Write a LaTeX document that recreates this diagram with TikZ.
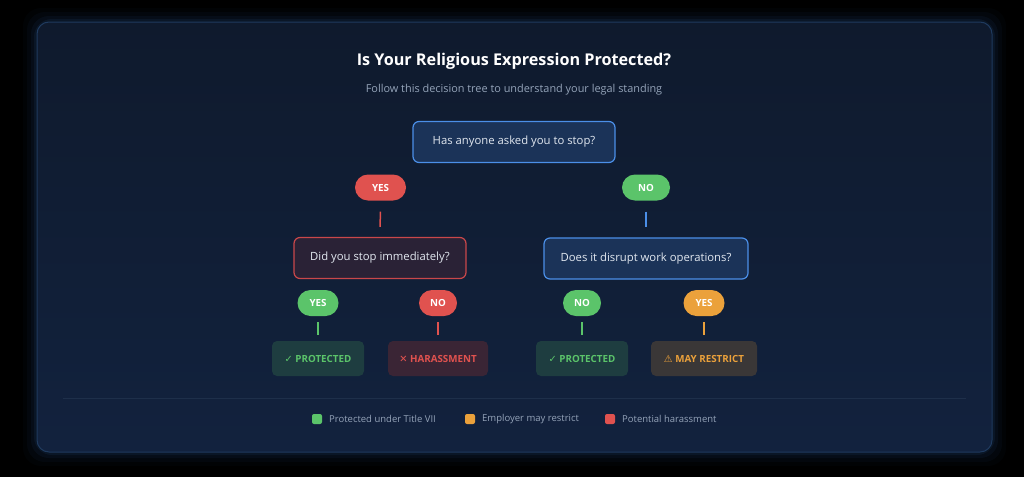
\documentclass[tikz,border=0pt]{standalone}
\usepackage{fontspec}
\setmainfont{Open Sans}
\newfontfamily\symfont{DejaVu Sans}
\usetikzlibrary{calc}
\definecolor{cardtop}{HTML}{0F1A2D}
\definecolor{cardbot}{HTML}{12223E}
\definecolor{cardborder}{HTML}{1F3A5E}
\definecolor{rootfill}{HTML}{1B3358}
\definecolor{bluebd}{HTML}{4B8FE8}
\definecolor{redc}{HTML}{E0524F}
\definecolor{greenc}{HTML}{5BC46A}
\definecolor{orangec}{HTML}{EBA13B}
\definecolor{redfill}{HTML}{2A2236}
\definecolor{redbd}{HTML}{C9474A}
\definecolor{protfill}{HTML}{1E3D40}
\definecolor{harfill}{HTML}{3A2535}
\definecolor{mayfill}{HTML}{3A3737}
\definecolor{subgray}{HTML}{94A3B8}
\definecolor{qtext}{HTML}{E2E8F0}
\definecolor{sepc}{HTML}{1E2F4A}
\tikzset{
  question/.style={draw, line width=1.2pt, rounded corners=6pt, minimum height=41pt, text=qtext, font=\fontsize{11.3}{13}\selectfont},
  pill/.style={rounded corners=13pt, minimum height=26pt, text=white, font=\bfseries\fontsize{9.8}{11}\selectfont, inner sep=0pt},
  result/.style={rounded corners=5pt, minimum height=35pt, inner sep=0pt, font=\bfseries\fontsize{9.8}{11}\selectfont},
  conn/.style={line width=1.5pt},
  legsq/.style={rounded corners=2pt, minimum width=10pt, minimum height=10pt, inner sep=0pt},
  legtx/.style={anchor=west, text=subgray, font=\fontsize{9.5}{11}\selectfont, inner sep=0pt}
}
\begin{document}
\begin{tikzpicture}[x=1pt,y=-1pt]
\fill[black] (0,0) rectangle (1024,477);
\useasboundingbox (0,0) rectangle (1024,477);
% glow
\foreach \g/\o in {14/0.025,10/0.035,6/0.05,3/0.07}{
  \fill[bluebd, opacity=\o, rounded corners=18pt] (37-\g,22-\g) rectangle (992+\g,452+\g);
}
\node[draw=cardborder, line width=1pt, rounded corners=12pt, top color=cardtop, bottom color=cardbot, minimum width=955pt, minimum height=430pt, inner sep=0pt] (card) at (514.5,237) {};
% title
\node[text=white, font=\bfseries\fontsize{16.2}{19}\selectfont] (title) at (514,61) {Is Your Religious Expression Protected?};
\node[text=subgray, font=\fontsize{10.9}{13}\selectfont] (sub) at (514,90) {Follow this decision tree to understand your legal standing};
% root
\node[question, draw=bluebd, fill=rootfill, minimum width=202pt] (root) at (514,142) {Has anyone asked you to stop?};
% first level pills
\node[pill, fill=redc, minimum width=51pt] (yes1) at (380.5,187.5) {YES};
\node[pill, fill=greenc, minimum width=48pt] (no1) at (646,187.5) {NO};
% second level questions
\node[question, draw=redbd, fill=redfill, minimum width=172pt] (q1) at (380,258) {Did you stop immediately?};
\node[question, draw=bluebd, fill=rootfill, minimum width=204pt] (q2) at (646,258.5) {Does it disrupt work operations?};
\draw[conn, redc, shorten <=11pt, shorten >=10pt] (yes1.south) -- (q1.north);
\draw[conn, bluebd, shorten <=11pt, shorten >=10pt] (no1.south) -- (q2.north);
% third level pills
\node[pill, fill=greenc, minimum width=41pt] (yes2) at (318,303) {YES};
\node[pill, fill=redc, minimum width=38pt] (no2) at (438,303) {NO};
\node[pill, fill=greenc, minimum width=38pt] (no3) at (582,303) {NO};
\node[pill, fill=orangec, minimum width=41pt] (yes3) at (704,303) {YES};
% results
\node[result, fill=protfill, text=greenc, minimum width=92pt] (r1) at (318,358.5) {{\symfont ✓} PROTECTED};
\node[result, fill=harfill, text=redc, minimum width=100pt] (r2) at (438,358.5) {{\symfont ✕} HARASSMENT};
\node[result, fill=protfill, text=greenc, minimum width=92pt] (r3) at (582,358.5) {{\symfont ✓} PROTECTED};
\node[result, fill=mayfill, text=orangec, minimum width=106pt] (r4) at (704,358.5) {{\symfont ⚠} MAY RESTRICT};
\draw[conn, greenc, shorten <=6pt, shorten >=6pt] (yes2.south) -- (yes2.south |- r1.north);
\draw[conn, redc, shorten <=6pt, shorten >=6pt] (no2.south) -- (no2.south |- r2.north);
\draw[conn, greenc, shorten <=6pt, shorten >=6pt] (no3.south) -- (no3.south |- r3.north);
\draw[conn, orangec, shorten <=6pt, shorten >=6pt] (yes3.south) -- (yes3.south |- r4.north);
% separator
\coordinate (sepL) at (63,398);
\coordinate (sepR) at (966,398);
\draw[sepc, line width=1pt] (sepL) -- (sepR);
% legend
\node[legsq, fill=greenc] (lg1) at (317,419) {};
\node[legtx] (lt1) at (329,419) {Protected under Title VII};
\node[legsq, fill=orangec] (lg2) at (470,419) {};
\node[legtx] (lt2) at (482,419) {Employer may restrict};
\node[legsq, fill=redc] (lg3) at (610,419) {};
\node[legtx] (lt3) at (622,419) {Potential harassment};
\end{tikzpicture}
\end{document}
